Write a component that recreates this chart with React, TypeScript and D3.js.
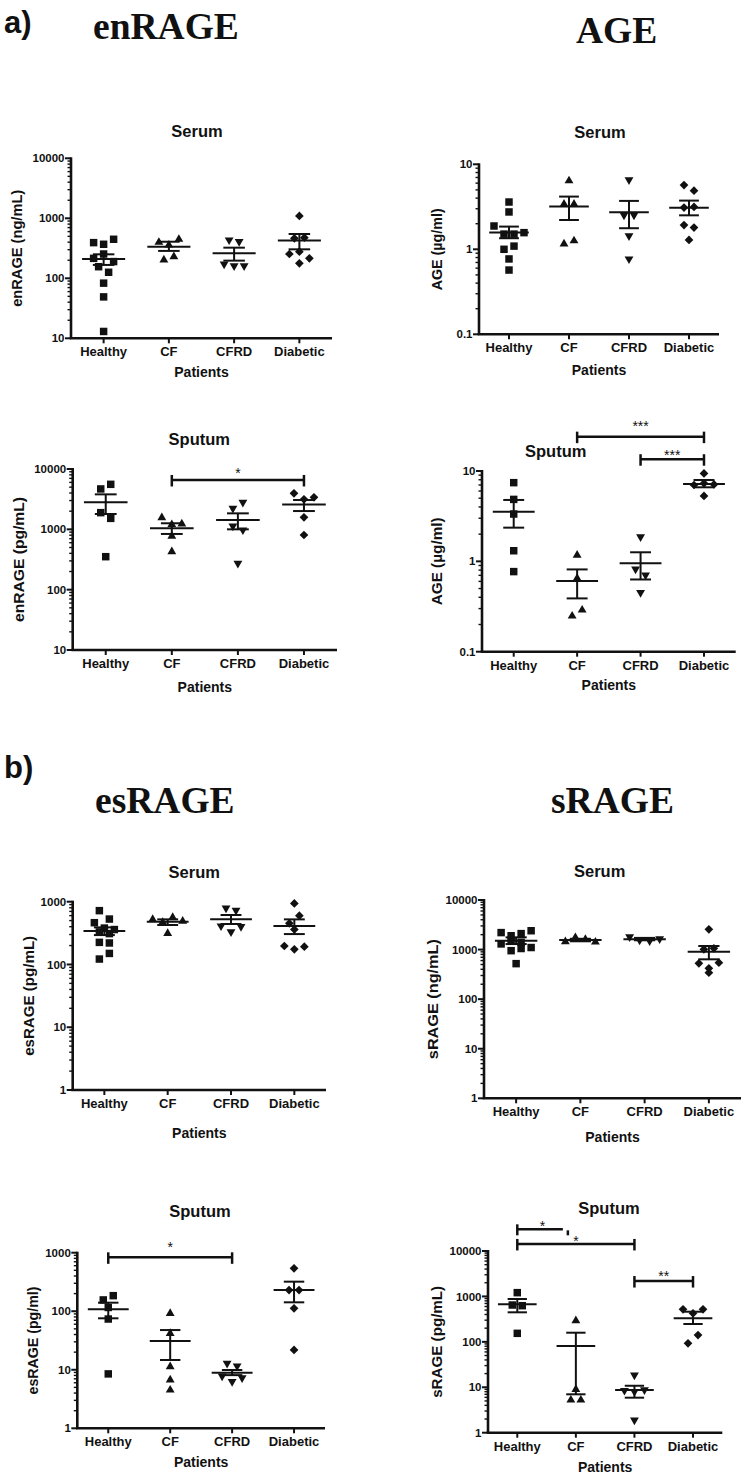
import React from "react";
import * as d3 from "d3";

const CATS = ["Healthy", "CF", "CFRD", "Diabetic"];

// a) enRAGE – Serum (ng/mL)
const enrageSerumHealthy = [393, 369, 447, 215, 254, 190, 156, 126, 83, 49, 13];
const enrageSerumCF = [398, 359, 447, 202, 230];
const enrageSerumCFRD = [435, 409, 173, 161, 161];
const enrageSerumDiabetic = [1094, 464, 476, 254, 278, 215, 178];
const enrageSerumMean = [210, 337, 261, 425];
const enrageSerumLow = [167, 286, 197, 304];
const enrageSerumHigh = [251, 407, 324, 548];

// a) AGE – Serum (µg/ml)
const ageSerumHealthy = [3.6, 2.75, 1.88, 1.51, 1.51, 1.57, 1.0, 1.09, 0.77, 0.57];
const ageSerumCF = [6.4, 3.4, 3.4, 1.16, 1.26];
const ageSerumCFRD = [6.55, 2.53, 2.53, 1.44, 0.77];
const ageSerumDiabetic = [5.7, 4.9, 3.1, 3.15, 1.93, 1.8, 1.29];
const ageSerumMean = [1.58, 3.18, 2.72, 3.09];
const ageSerumLow = [1.35, 2.21, 1.77, 2.51];
const ageSerumHigh = [1.85, 4.17, 3.71, 3.74];

// a) enRAGE – Sputum (pg/mL)
const enrageSputumHealthy = [4670, 5570, 1890, 1520, 352];
const enrageSputumCF = [1560, 1200, 1230, 770, 427];
const enrageSputumCFRD = [2230, 2800, 1135, 975, 273];
const enrageSputumDiabetic = [3950, 3140, 3390, 1580, 806];
const enrageSputumMean = [2810, 1040, 1430, 2590];
const enrageSputumLow = [1795, 838, 1000, 2010];
const enrageSputumHigh = [3800, 1260, 1840, 3060];

// a) AGE – Sputum (µg/ml)
const ageSputumHealthy = [7.43, 4.85, 3.34, 1.31, 0.77];
const ageSputumCF = [1.17, 0.65, 0.248, 0.289];
const ageSputumCFRD = [1.87, 0.822, 0.706, 0.45];
const ageSputumDiabetic = [9.4, 7.0, 7.3, 7.1, 5.3];
const ageSputumMean = [3.55, 0.605, 0.95, 7.2];
const ageSputumLow = [2.36, 0.389, 0.63, 6.6];
const ageSputumHigh = [4.78, 0.814, 1.26, 7.95];

// b) esRAGE – Serum (pg/mL)
const esrageSerumHealthy = [720, 529, 463, 380, 360, 330, 310, 225, 220, 122, 150];
const esrageSerumCF = [523, 470, 562, 490, 313];
const esrageSerumCFRD = [790, 730, 410, 330, 400];
const esrageSerumDiabetic = [940, 452, 598, 362, 197, 174, 192];
const esrageSerumMean = [341, 480, 523, 410];
const esrageSerumLow = [294, 425, 441, 305];
const esrageSerumHigh = [390, 523, 614, 523];

// b) sRAGE – Serum (ng/mL)
const srageSerumHealthy = [2200, 1900, 2100, 2400, 1300, 1500, 1400, 1100, 950, 1050, 520];
const srageSerumCF = [1450, 1750, 1600, 1420];
const srageSerumCFRD = [1800, 1550, 1500, 1650];
const srageSerumDiabetic = [2560, 1011, 1059, 528, 419, 545, 342];
const srageSerumMean = [1514, 1560, 1620, 908];
const srageSerumLow = [1293, 1470, 1540, 636];
const srageSerumHigh = [1766, 1650, 1720, 1180];

// b) esRAGE – Sputum (pg/ml)
const esrageSputumHealthy = [156, 184.5, 116, 73.6, 8.5];
const esrageSputumCF = [92, 41.9, 11.3, 6.7, 4.5];
const esrageSputumCFRD = [12.9, 11.6, 7.8, 6.3, 7.3];
const esrageSputumDiabetic = [540, 230, 230, 112, 21.8];
const esrageSputumMean = [108, 31, 8.9, 230];
const esrageSputumLow = [75.7, 14.7, 8.1, 142];
const esrageSputumHigh = [140, 47.7, 9.9, 320];

// b) sRAGE – Sputum (pg/mL)
const srageSputumHealthy = [1211, 647, 625, 154];
const srageSputumCF = [292, 9.0, 5.24, 5.24];
const srageSputumCFRD = [18.6, 8.5, 8.0, 8.8, 1.9];
const srageSputumDiabetic = [520, 425, 520, 92.7, 141];
const srageSputumMean = [670, 81, 8.7, 329];
const srageSputumLow = [447, 7, 5.9, 247];
const srageSputumHigh = [877, 159, 10.8, 461];

type Sig = { from: number; to: number; level: number; text: string; gap: number; broken?: boolean };
type Panel = {
  left: number; right: number; top: number; bottom: number;
  domain: [number, number];
  yLabel: string; yLabelLen: number; yLabelDx: number;
  title: string; titleX: number; titleY: number; xLabDy: number;
  series: number[][]; mean: number[]; low: number[]; high: number[];
  sig: Sig[];
};

const panels: Panel[] = [
  {
    left: 71, right: 332, top: 158.3, bottom: 338.3, domain: [10, 10000],
    yLabel: "enRAGE (ng/mL)", yLabelLen: 117, yLabelDx: -54,
    title: "Serum", titleX: 197, titleY: 136.7, xLabDy: 39,
    series: [enrageSerumHealthy, enrageSerumCF, enrageSerumCFRD, enrageSerumDiabetic],
    mean: enrageSerumMean, low: enrageSerumLow, high: enrageSerumHigh, sig: [],
  },
  {
    left: 479, right: 719, top: 164.3, bottom: 334.3, domain: [0.1, 10],
    yLabel: "AGE (µg/ml)", yLabelLen: 82, yLabelDx: -42,
    title: "Serum", titleX: 600, titleY: 138.3, xLabDy: 41,
    series: [ageSerumHealthy, ageSerumCF, ageSerumCFRD, ageSerumDiabetic],
    mean: ageSerumMean, low: ageSerumLow, high: ageSerumHigh, sig: [],
  },
  {
    left: 72.7, right: 337, top: 469, bottom: 650, domain: [10, 10000],
    yLabel: "enRAGE (pg/mL)", yLabelLen: 125, yLabelDx: -54.4,
    title: "Sputum", titleX: 199.3, titleY: 445, xLabDy: 42,
    series: [enrageSputumHealthy, enrageSputumCF, enrageSputumCFRD, enrageSputumDiabetic],
    mean: enrageSputumMean, low: enrageSputumLow, high: enrageSputumHigh,
    sig: [{ from: 1, to: 3, level: 6580, text: "*", gap: 10 }],
  },
  {
    left: 482, right: 735.7, top: 471, bottom: 651.7, domain: [0.1, 10],
    yLabel: "AGE (µg/ml)", yLabelLen: 88, yLabelDx: -45.7,
    title: "Sputum", titleX: 555.7, titleY: 456.7, xLabDy: 38.5,
    series: [ageSputumHealthy, ageSputumCF, ageSputumCFRD, ageSputumDiabetic],
    mean: ageSputumMean, low: ageSputumLow, high: ageSputumHigh,
    sig: [
      { from: 1, to: 3, level: 24, text: "***", gap: 13.7 },
      { from: 2, to: 3, level: 13.5, text: "***", gap: 7.6 },
    ],
  },
  {
    left: 72.7, right: 326, top: 901.7, bottom: 1090, domain: [1, 1000],
    yLabel: "esRAGE (pg/mL)", yLabelLen: 120, yLabelDx: -44.4,
    title: "Serum", titleX: 194.3, titleY: 878.3, xLabDy: 48,
    series: [esrageSerumHealthy, esrageSerumCF, esrageSerumCFRD, esrageSerumDiabetic],
    mean: esrageSerumMean, low: esrageSerumLow, high: esrageSerumHigh, sig: [],
  },
  {
    left: 484, right: 741, top: 900, bottom: 1098.3, domain: [1, 10000],
    yLabel: "sRAGE (ng/mL)", yLabelLen: 120, yLabelDx: -51,
    title: "Serum", titleX: 599.7, titleY: 876.7, xLabDy: 43.4,
    series: [srageSerumHealthy, srageSerumCF, srageSerumCFRD, srageSerumDiabetic],
    mean: srageSerumMean, low: srageSerumLow, high: srageSerumHigh, sig: [],
  },
  {
    left: 77.3, right: 325, top: 1252.7, bottom: 1428.3, domain: [1, 1000],
    yLabel: "esRAGE (pg/ml)", yLabelLen: 108, yLabelDx: -44.6,
    title: "Sputum", titleX: 200, titleY: 1216.7, xLabDy: 39,
    series: [esrageSputumHealthy, esrageSputumCF, esrageSputumCFRD, esrageSputumDiabetic],
    mean: esrageSputumMean, low: esrageSputumLow, high: esrageSputumHigh,
    sig: [{ from: 0, to: 2, level: 834, text: "*", gap: 13.3 }],
  },
  {
    left: 488, right: 722.3, top: 1251, bottom: 1432.7, domain: [1, 10000],
    yLabel: "sRAGE (pg/mL)", yLabelLen: 112, yLabelDx: -51.7,
    title: "Sputum", titleX: 609, titleY: 1214, xLabDy: 39.3,
    series: [srageSputumHealthy, srageSputumCF, srageSputumCFRD, srageSputumDiabetic],
    mean: srageSputumMean, low: srageSputumLow, high: srageSputumHigh,
    sig: [
      { from: 0, to: 1, level: 30000, text: "*", gap: 6.6, broken: true },
      { from: 0, to: 2, level: 14300, text: "*", gap: 6.3 },
      { from: 2, to: 3, level: 2180, text: "**", gap: 8.3 },
    ],
  },
];

const INK = "#111";
const SANS = "'Liberation Sans', Arial, Helvetica, sans-serif";
const SERIF = "'Liberation Serif', 'Times New Roman', serif";

function swarm(values: number[], y: (v: number) => number, dx: number, thr: number, maxRow: number): number[] {
  const idx = values.map((_, i) => i).sort((a, b) => y(values[a]) - y(values[b]) || a - b);
  const off = new Array(values.length).fill(0);
  let i = 0;
  while (i < idx.length) {
    const start = y(values[idx[i]]);
    const group = [idx[i]];
    let j = i + 1;
    while (j < idx.length && y(values[idx[j]]) - start < thr && group.length < maxRow) {
      group.push(idx[j]);
      j++;
    }
    group.sort((a, b) => a - b);
    group.forEach((g, k) => (off[g] = (k - (group.length - 1) / 2) * dx));
    i = j;
  }
  return off;
}

const squarePath = d3.symbol().type(d3.symbolSquare).size(56)() as string;
const trianglePath = d3.symbol().type(d3.symbolTriangle).size(34)() as string;
const diamondPath = d3.symbol().type(d3.symbolSquare).size(38)() as string;

function Marker({ cat, x, y }: { cat: number; x: number; y: number }) {
  if (cat === 0) return <path d={squarePath} transform={`translate(${x},${y})`} fill={INK} />;
  if (cat === 1) return <path d={trianglePath} transform={`translate(${x},${y})`} fill={INK} />;
  if (cat === 2) return <path d={trianglePath} transform={`translate(${x},${y}) rotate(180)`} fill={INK} />;
  return <path d={diamondPath} transform={`translate(${x},${y}) rotate(45)`} fill={INK} />;
}

function PanelView({ p }: { p: Panel }) {
  const y = d3.scaleLog().domain(p.domain).range([p.bottom, p.top]);
  const x = d3.scalePoint<string>().domain(CATS).range([p.left, p.right]).padding(0.5);
  const step = x.step();
  const meanHalf = step * 0.33;
  const capHalf = step * 0.165;
  const e0 = Math.round(Math.log10(p.domain[0]));
  const e1 = Math.round(Math.log10(p.domain[1]));
  const majors = d3.range(e0, e1 + 1).map((e) => Math.pow(10, e));
  const minors: number[] = [];
  for (let e = e0; e < e1; e++) for (let k = 2; k <= 9; k++) minors.push(k * Math.pow(10, e));
  const fmt = (v: number) => String(+v.toPrecision(1));
  const midX = (p.left + p.right) / 2;
  const midY = (p.top + p.bottom) / 2;

  return (
    <g>
      <text x={p.titleX} y={p.titleY} textAnchor="middle" fontFamily={SANS} fontWeight="bold" fontSize={16.5} fill={INK}>
        {p.title}
      </text>
      {/* y axis */}
      <line x1={p.left} x2={p.left} y1={p.top - 1} y2={p.bottom} stroke={INK} strokeWidth={2.6} />
      {minors.map((v, i) => (
        <line key={"mi" + i} x1={p.left - 3.5} x2={p.left} y1={y(v)} y2={y(v)} stroke={INK} strokeWidth={1.4} />
      ))}
      {majors.map((v, i) => (
        <g key={"ma" + i}>
          <line x1={p.left - 6} x2={p.left} y1={y(v)} y2={y(v)} stroke={INK} strokeWidth={2} />
          <text x={p.left - 6.5} y={y(v)} dy="0.36em" textAnchor="end" fontFamily={SANS} fontWeight="bold" fontSize={11.5} fill={INK}>
            {fmt(v)}
          </text>
        </g>
      ))}
      <text
        transform={`translate(${p.left + p.yLabelDx},${midY}) rotate(-90)`}
        textAnchor="middle"
        dy="0.36em"
        fontFamily={SANS}
        fontWeight="bold"
        fontSize={15}
        textLength={p.yLabelLen}
        lengthAdjust="spacingAndGlyphs"
        fill={INK}
      >
        {p.yLabel}
      </text>
      {/* x axis */}
      <line x1={p.left - 1.3} x2={p.right} y1={p.bottom} y2={p.bottom} stroke={INK} strokeWidth={2.6} />
      {CATS.map((c) => (
        <g key={"xt" + c}>
          <line x1={x(c)} x2={x(c)} y1={p.bottom} y2={p.bottom + 5} stroke={INK} strokeWidth={2} />
          <text x={x(c)} y={p.bottom + 18} textAnchor="middle" fontFamily={SANS} fontWeight="bold" fontSize={13} fill={INK}>
            {c}
          </text>
        </g>
      ))}
      <text x={midX} y={p.bottom + p.xLabDy} textAnchor="middle" fontFamily={SANS} fontWeight="bold" fontSize={14} fill={INK}>
        Patients
      </text>
      {/* points */}
      {p.series.map((vals, ci) => {
        const cx = x(CATS[ci]) as number;
        const offs = swarm(vals, (v) => y(v), 10, 9, 4);
        return (
          <g key={"s" + ci}>
            {vals.map((v, i) => (
              <Marker key={i} cat={ci} x={cx + offs[i]} y={y(v)} />
            ))}
          </g>
        );
      })}
      {/* mean ± SEM */}
      {CATS.map((c, ci) => {
        const cx = x(c) as number;
        return (
          <g key={"m" + c} stroke={INK} strokeWidth={2}>
            <line x1={cx - meanHalf} x2={cx + meanHalf} y1={y(p.mean[ci])} y2={y(p.mean[ci])} />
            <line x1={cx} x2={cx} y1={y(p.high[ci])} y2={y(p.low[ci])} />
            <line x1={cx - capHalf} x2={cx + capHalf} y1={y(p.high[ci])} y2={y(p.high[ci])} />
            <line x1={cx - capHalf} x2={cx + capHalf} y1={y(p.low[ci])} y2={y(p.low[ci])} />
          </g>
        );
      })}
      {/* significance bars */}
      {p.sig.map((s, i) => {
        const x1 = x(CATS[s.from]) as number;
        let x2 = x(CATS[s.to]) as number;
        const yy = y(s.level);
        if (s.broken) {
          const xe = x2 - 8;
          return (
            <g key={"sig" + i} stroke={INK} strokeWidth={2.5}>
              <line x1={x1} x2={x2 - 13} y1={yy} y2={yy} />
              <line x1={x1} x2={x1} y1={yy - 5} y2={yy + 6} />
              <line x1={xe} x2={xe} y1={yy + 1} y2={yy + 6} />
              <text x={(x1 + xe) / 2} y={yy - s.gap + 8.2} textAnchor="middle" fontFamily={SANS} fontSize={14} fill={INK} stroke="none">
                {s.text}
              </text>
            </g>
          );
        }
        return (
          <g key={"sig" + i} stroke={INK} strokeWidth={2.5}>
            <line x1={x1} x2={x2} y1={yy} y2={yy} />
            <line x1={x1} x2={x1} y1={yy - 5} y2={yy + 6.5} />
            <line x1={x2} x2={x2} y1={yy - 5} y2={yy + 6.5} />
            <text x={(x1 + x2) / 2} y={yy - s.gap + 8.2} textAnchor="middle" fontFamily={SANS} fontSize={14} fill={INK} stroke="none">
              {s.text}
            </text>
          </g>
        );
      })}
    </g>
  );
}

export default function App() {
  return (
    <svg
      width={747}
      height={1478}
      viewBox="0 0 747 1478"
      style={{ position: "absolute", left: 0, top: 0, background: "#fff" }}
    >
      <rect x={0} y={0} width={747} height={1478} fill="#fff" />
      <text x={4} y={33} fontFamily={SANS} fontWeight="bold" fontSize={31} fill={INK}>a)</text>
      <text x={93} y={39} fontFamily={SERIF} fontWeight="bold" fontSize={37.5} fill={INK}>enRAGE</text>
      <text x={576} y={42.5} fontFamily={SERIF} fontWeight="bold" fontSize={37.5} fill={INK}>AGE</text>
      <text x={4} y={778} fontFamily={SANS} fontWeight="bold" fontSize={31} fill={INK}>b)</text>
      <text x={95} y={813} fontFamily={SERIF} fontWeight="bold" fontSize={37.5} fill={INK}>esRAGE</text>
      <text x={551} y={813} fontFamily={SERIF} fontWeight="bold" fontSize={37.5} fill={INK}>sRAGE</text>
      {panels.map((p, i) => (
        <PanelView key={i} p={p} />
      ))}
    </svg>
  );
}
